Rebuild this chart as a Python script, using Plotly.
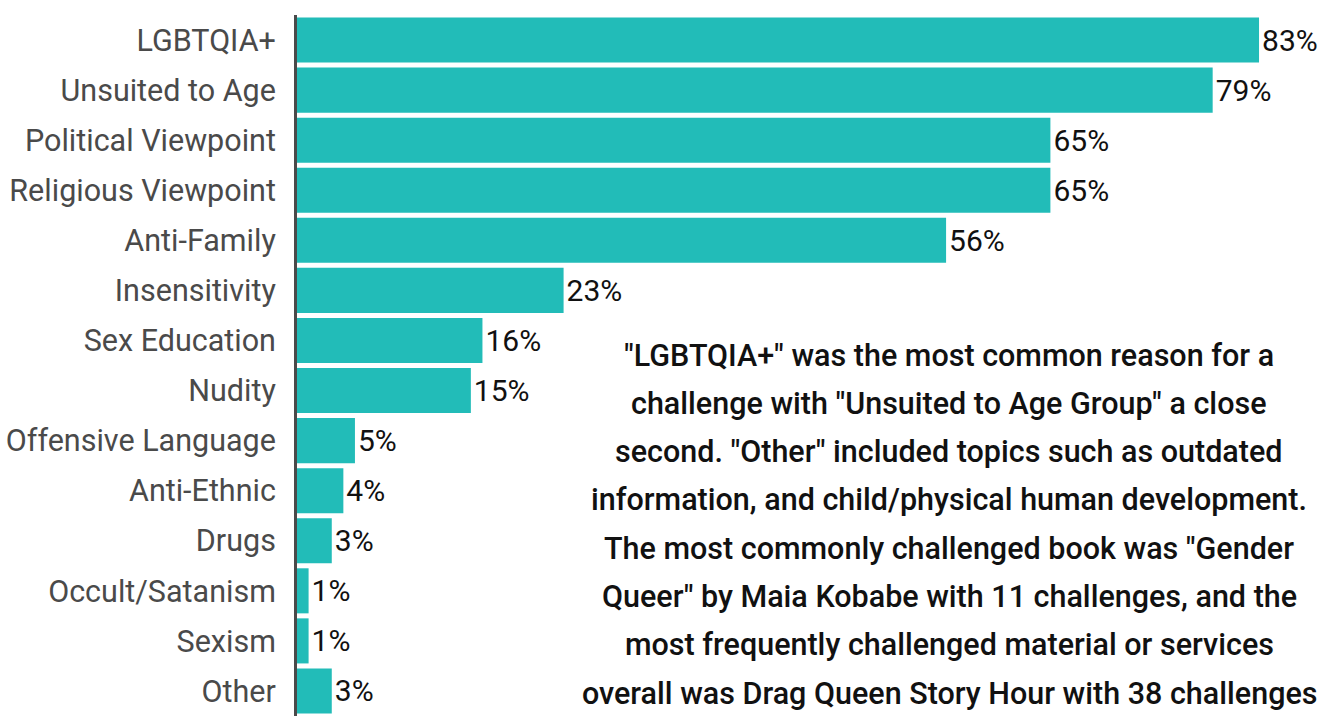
import plotly.graph_objects as go

categories = ["LGBTQIA+", "Unsuited to Age", "Political Viewpoint", "Religious Viewpoint",
              "Anti-Family", "Insensitivity", "Sex Education", "Nudity",
              "Offensive Language", "Anti-Ethnic", "Drugs", "Occult/Satanism",
              "Sexism", "Other"]
values = [83, 79, 65, 65, 56, 23, 16, 15, 5, 4, 3, 1, 1, 3]
value_labels = [f"{v}%" for v in values]

note_lines = [
    '"LGBTQIA+" was the most common reason for a',
    'challenge with "Unsuited to Age Group" a close',
    'second. "Other" included topics such as outdated',
    'information, and child/physical human development.',
    'The most commonly challenged book was "Gender',
    'Queer" by Maia Kobabe with 11 challenges, and the',
    'most frequently challenged material or services',
    'overall was Drag Queen Story Hour with 38 challenges',
]

W, H = 1320, 716
ML, MR, MT, MB = 297, 0, 15, 0
plot_w = W - ML - MR
plot_h = H - MT - MB

fig = go.Figure(go.Bar(
    y=categories, x=values, orientation="h",
    marker=dict(color="#22BCB8", line=dict(width=0)),
    text=value_labels, textposition="outside", cliponaxis=False,
    textfont=dict(family="Roboto", size=30, color="#111111"),
))

# annotation lines: centred block, line pitch ~48 px
center_x_px = 949
first_line_px = 355
pitch_px = 48.3
annotations = []
for i, line in enumerate(note_lines):
    ypx = first_line_px + i * pitch_px
    annotations.append(dict(
        text=line, xref="paper", yref="paper",
        x=(center_x_px - ML) / plot_w, y=(H - MB - ypx) / plot_h,
        xanchor="center", yanchor="middle", showarrow=False, align="center",
        font=dict(family="Roboto", size=30.5, color="#111111", weight=500),
    ))

fig.update_layout(
    width=W, height=H,
    margin=dict(l=ML, r=MR, t=MT, b=MB),
    paper_bgcolor="white", plot_bgcolor="white",
    showlegend=False,
    bargap=0.1,
    font=dict(family="Roboto"),
    xaxis=dict(range=[0, 88.26], showgrid=False, zeroline=False,
               showticklabels=False, showline=False),
    yaxis=dict(autorange="reversed", showgrid=False, zeroline=False,
               showline=True, linecolor="#4a4a4a", linewidth=3,
               tickfont=dict(family="Roboto", size=30.5, color="#4a4a4a"),
               ticklabelstandoff=12, ticks=""),
    annotations=annotations,
)

fig.write_html("out.html")
